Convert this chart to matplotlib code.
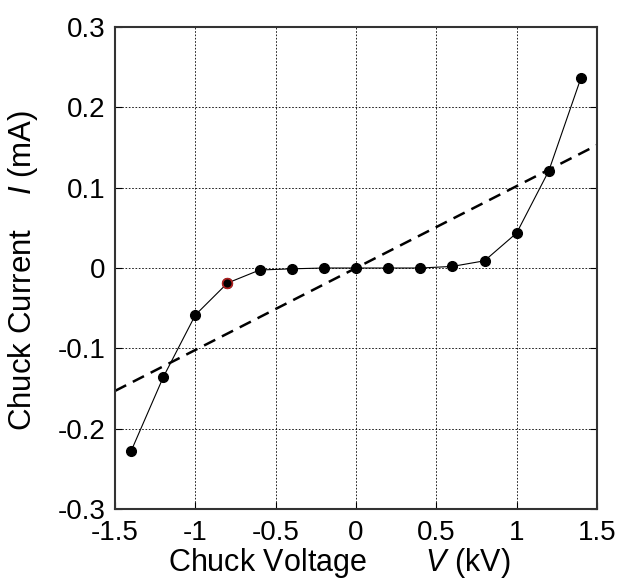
import matplotlib
matplotlib.use("Agg")
import matplotlib.pyplot as plt

plt.rcParams['font.family'] = ['Liberation Sans', 'DejaVu Sans']
plt.rcParams['mathtext.fontset'] = 'custom'
plt.rcParams['mathtext.it'] = 'Liberation Sans:italic'

# measured I-V data
voltage = [-1.4, -1.2, -1.0, -0.8, -0.6, -0.4, -0.2, 0.0, 0.2, 0.4, 0.6, 0.8, 1.0, 1.2, 1.4]
current = [-0.228, -0.136, -0.0585, -0.0187, -0.0025, -0.001, 0.0, 0.0, 0.0, 0.0, 0.002, 0.009, 0.0436, 0.121, 0.2366]

# linear reference (ohmic) line
fit_v = [-1.5, 1.5]
fit_i = [-0.153, 0.153]

xticks = [-1.5, -1, -0.5, 0, 0.5, 1, 1.5]
xticklabels = ['-1.5', '-1', '-0.5', '0', '0.5', '1', '1.5']
yticks = [-0.3, -0.2, -0.1, 0, 0.1, 0.2, 0.3]
yticklabels = ['-0.3', '-0.2', '-0.1', '0', '0.1', '0.2', '0.3']

fig = plt.figure(figsize=(6.17, 5.81), dpi=100)
ax = fig.add_axes([0.1864, 0.1239, 0.7812, 0.8296])

ax.plot(fit_v, fit_i, color='black', linestyle=(0, (5, 3)), linewidth=1.8, zorder=2)
ax.plot(voltage, current, color='black', linewidth=0.8, marker='o', markersize=7,
        markerfacecolor='black', markeredgecolor='black', zorder=3)
# highlighted point
ax.plot([voltage[3]], [current[3]], marker='o', markersize=7, linestyle='none',
        markerfacecolor='black', markeredgecolor='#b02020', markeredgewidth=1.2, zorder=4)

ax.set_xlim(-1.5, 1.5)
ax.set_ylim(-0.3, 0.3)
ax.set_xticks(xticks)
ax.set_xticklabels(xticklabels)
ax.set_yticks(yticks)
ax.set_yticklabels(yticklabels)
ax.tick_params(direction='in', length=5, width=0.8, labelsize=20, top=False, right=True)
ax.tick_params(axis='x', pad=8)
ax.tick_params(axis='y', pad=7)
ax.grid(True, color='black', linestyle=(0, (2, 2)), linewidth=0.6)

for s in ax.spines.values():
    s.set_linewidth(1.5)
    s.set_color('#333333')

ax.set_xlabel('Chuck Voltage       $\\mathit{V}$ (kV)', fontsize=22)
ax.set_ylabel('Chuck Current    $\\mathit{I}$ (mA)', fontsize=22.5)
ax.xaxis.set_label_coords(0.465, -0.077)
ax.yaxis.set_label_coords(-0.155, 0.496)

fig.savefig('out.png', dpi=100)
